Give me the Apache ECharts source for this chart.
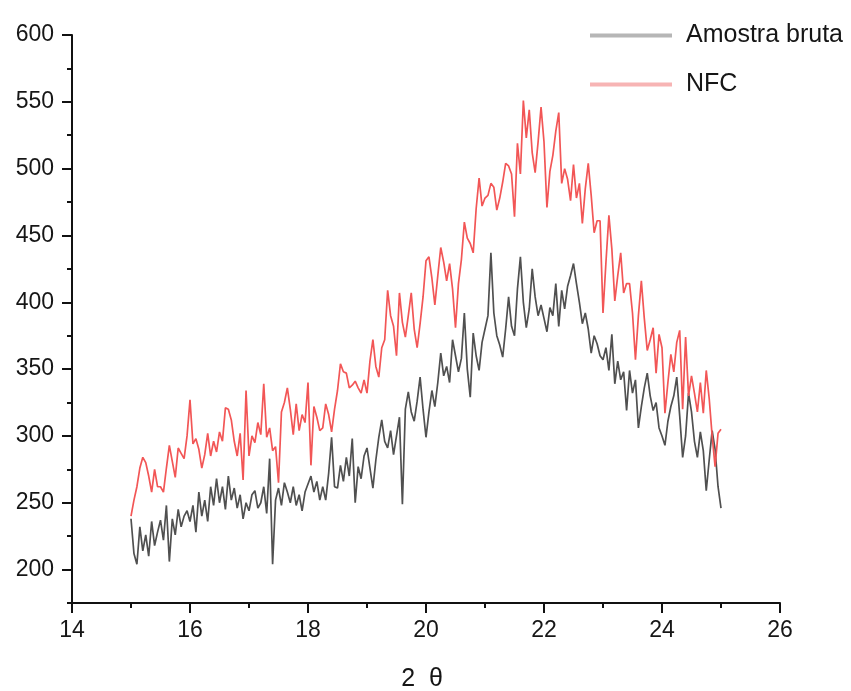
<!DOCTYPE html>
<html>
<head>
<meta charset="utf-8">
<script src="https://cdn.jsdelivr.net/npm/echarts@6/dist/echarts.min.js"></script>
<style>
  html, body { margin: 0; padding: 0; background: #ffffff; }
  #chart { width: 851px; height: 691px; }
</style>
</head>
<body>
<div id="chart"></div>
<script>
// Diffraction scan, 2θ from 15° to 25° in 0.05° steps
const angleStart = 15;
const angleStep = 0.05;

// Intensity of the raw sample (Amostra bruta)
const amostraBruta = [
  238, 212, 204, 232, 214, 226, 210, 236, 218, 228,
  237, 222, 248, 206, 238, 226, 245, 232, 240, 244,
  236, 248, 228, 258, 240, 252, 236, 262, 248, 268,
  250, 262, 245, 270, 252, 261, 246, 256, 238, 250,
  244, 256, 259, 246, 250, 262, 242, 283, 204, 252,
  261, 248, 265, 258, 250, 262, 248, 256, 244, 258,
  264, 270, 258, 266, 252, 262, 252, 272, 299, 262,
  261, 278, 266, 284, 270, 298, 250, 277, 268, 285,
  291, 276, 261, 282, 299, 312, 296, 291, 304, 286,
  300, 314, 249, 320, 333, 318, 311, 326, 344, 320,
  299, 318, 334, 322, 340, 362, 345, 352, 340, 372,
  360, 348, 358, 392, 350, 329, 377, 360, 349, 370,
  380, 390, 437, 392, 375, 368, 359, 380, 404, 382,
  375, 410, 434, 400, 381, 395, 425, 404, 390, 398,
  388, 378, 396, 390, 414, 382, 409, 395, 412, 420,
  429, 414, 400, 384, 392, 380, 362, 375, 369, 360,
  357, 366, 349, 376, 339, 356, 342, 348, 319, 349,
  332, 342, 306, 322, 336, 347, 330, 319, 325, 306,
  300, 293, 311, 322, 330, 344, 315, 284, 300, 332,
  318, 296, 284, 303, 289, 259, 282, 304, 290, 262,
  246
];

// Intensity of the nanofibrillated cellulose (NFC)
const nfc = [
  240, 252, 262, 276, 284, 280, 270, 258, 275, 262,
  262, 258, 276, 293, 281, 269, 291, 287, 283, 300,
  327, 294, 298, 290, 276, 286, 302, 285, 296, 288,
  303, 296, 321, 320, 312, 296, 285, 302, 267, 334,
  285, 300, 295, 310, 301, 339, 299, 306, 289, 292,
  265, 318, 325, 336, 320, 301, 324, 304, 316, 310,
  340, 278, 322, 314, 304, 306, 324, 316, 303, 320,
  334, 354, 348, 347, 336, 338, 341, 336, 332, 342,
  332, 356, 372, 352, 344, 366, 372, 409, 390, 382,
  360, 407, 385, 374, 390, 407, 380, 366, 384, 404,
  431, 434, 418, 398, 420, 441, 430, 416, 429, 410,
  381, 414, 432, 460, 448, 444, 437, 470, 493, 472,
  478, 480, 489, 486, 469, 478, 490, 504, 502, 496,
  464, 519, 496, 551, 523, 544, 512, 497, 520, 546,
  520, 471, 498, 510, 528, 542, 489, 500, 492, 476,
  503, 478, 489, 459, 485, 504, 480, 452, 461, 461,
  392, 430, 465, 440, 401, 420, 437, 407, 414, 414,
  392, 357, 390, 416, 388, 364, 372, 381, 347, 376,
  366, 317, 340, 361, 348, 370, 379, 320, 374, 330,
  345, 332, 318, 340, 317, 349, 328, 300, 277, 302,
  305
];

const seriesNames = ['Amostra bruta', 'NFC'];

// Labelled (major) ticks on each axis
const xMajorTicks = [14, 16, 18, 20, 22, 24, 26];
const yMajorTicks = [200, 250, 300, 350, 400, 450, 500, 550, 600];

const toPairs = (values) =>
  values.map((v, i) => [+(angleStart + i * angleStep).toFixed(2), v]);

const chart = echarts.init(document.getElementById('chart'), null, { renderer: 'canvas' });

const ink = '#161616';
const labelFont = "'Liberation Sans', Arial, sans-serif";

const X_MIN = 14, X_MAX = 26, Y_MIN = 175, Y_MAX = 600;

chart.setOption({
  animation: false,
  backgroundColor: '#ffffff',
  grid: {
    left: 72, right: 71, top: 35, bottom: 88,
    containLabel: false,
    outerBoundsMode: 'none'
  },
  legend: {
    orient: 'vertical',
    left: 585,
    top: 18,
    itemWidth: 82,
    itemHeight: 4,
    itemGap: 24,
    textStyle: {
      fontFamily: labelFont,
      fontSize: 25,
      color: ink,
      lineHeight: 26,
      padding: [-4, 0, 0, 9]
    },
    data: [
      { name: seriesNames[0], icon: 'rect', itemStyle: { color: '#b6b6b6' } },
      { name: seriesNames[1], icon: 'rect', itemStyle: { color: '#f7b4b4' } }
    ]
  },
  xAxis: [
    {
      // minor ticks every 1°, labels on the even values
      type: 'value',
      min: X_MIN, max: X_MAX, interval: 1,
      name: '2  θ',
      nameLocation: 'middle',
      nameGap: 64,
      nameTextStyle: { fontFamily: labelFont, fontSize: 25, color: ink, padding: [0, 8, 0, 0] },
      axisLine: { lineStyle: { color: '#111', width: 2 } },
      axisTick: { inside: false, length: 5, lineStyle: { color: '#111', width: 2 } },
      axisLabel: {
        margin: 16,
        fontFamily: labelFont,
        fontSize: 23,
        color: ink,
        customValues: xMajorTicks
      },
      splitLine: { show: false }
    },
    {
      // longer major ticks
      type: 'value',
      position: 'bottom',
      min: X_MIN, max: X_MAX, interval: 1,
      axisLine: { show: false },
      axisTick: { show: true, inside: false, length: 10, customValues: xMajorTicks,
                  lineStyle: { color: '#111', width: 2 } },
      axisLabel: { show: false },
      splitLine: { show: false }
    }
  ],
  yAxis: [
    {
      type: 'value',
      min: Y_MIN, max: Y_MAX, interval: 25,
      axisLine: { show: true, lineStyle: { color: '#111', width: 2 } },
      axisTick: { show: true, inside: false, length: 5, lineStyle: { color: '#111', width: 2 } },
      axisLabel: {
        margin: 18,
        fontFamily: labelFont,
        fontSize: 23,
        color: ink,
        customValues: yMajorTicks
      },
      splitLine: { show: false }
    },
    {
      type: 'value',
      position: 'left',
      min: Y_MIN, max: Y_MAX, interval: 25,
      axisLine: { show: false },
      axisTick: { show: true, inside: false, length: 10, customValues: yMajorTicks,
                  lineStyle: { color: '#111', width: 2 } },
      axisLabel: { show: false },
      splitLine: { show: false }
    }
  ],
  series: [
    {
      name: seriesNames[0],
      type: 'line',
      xAxisIndex: 0,
      yAxisIndex: 0,
      data: toPairs(amostraBruta),
      showSymbol: false,
      symbol: 'none',
      lineStyle: { color: '#505050', width: 1.7 },
      itemStyle: { color: '#505050' }
    },
    {
      name: seriesNames[1],
      type: 'line',
      xAxisIndex: 0,
      yAxisIndex: 0,
      data: toPairs(nfc),
      showSymbol: false,
      symbol: 'none',
      lineStyle: { color: '#f25656', width: 1.7 },
      itemStyle: { color: '#f25656' }
    }
  ]
});
</script>
</body>
</html>
